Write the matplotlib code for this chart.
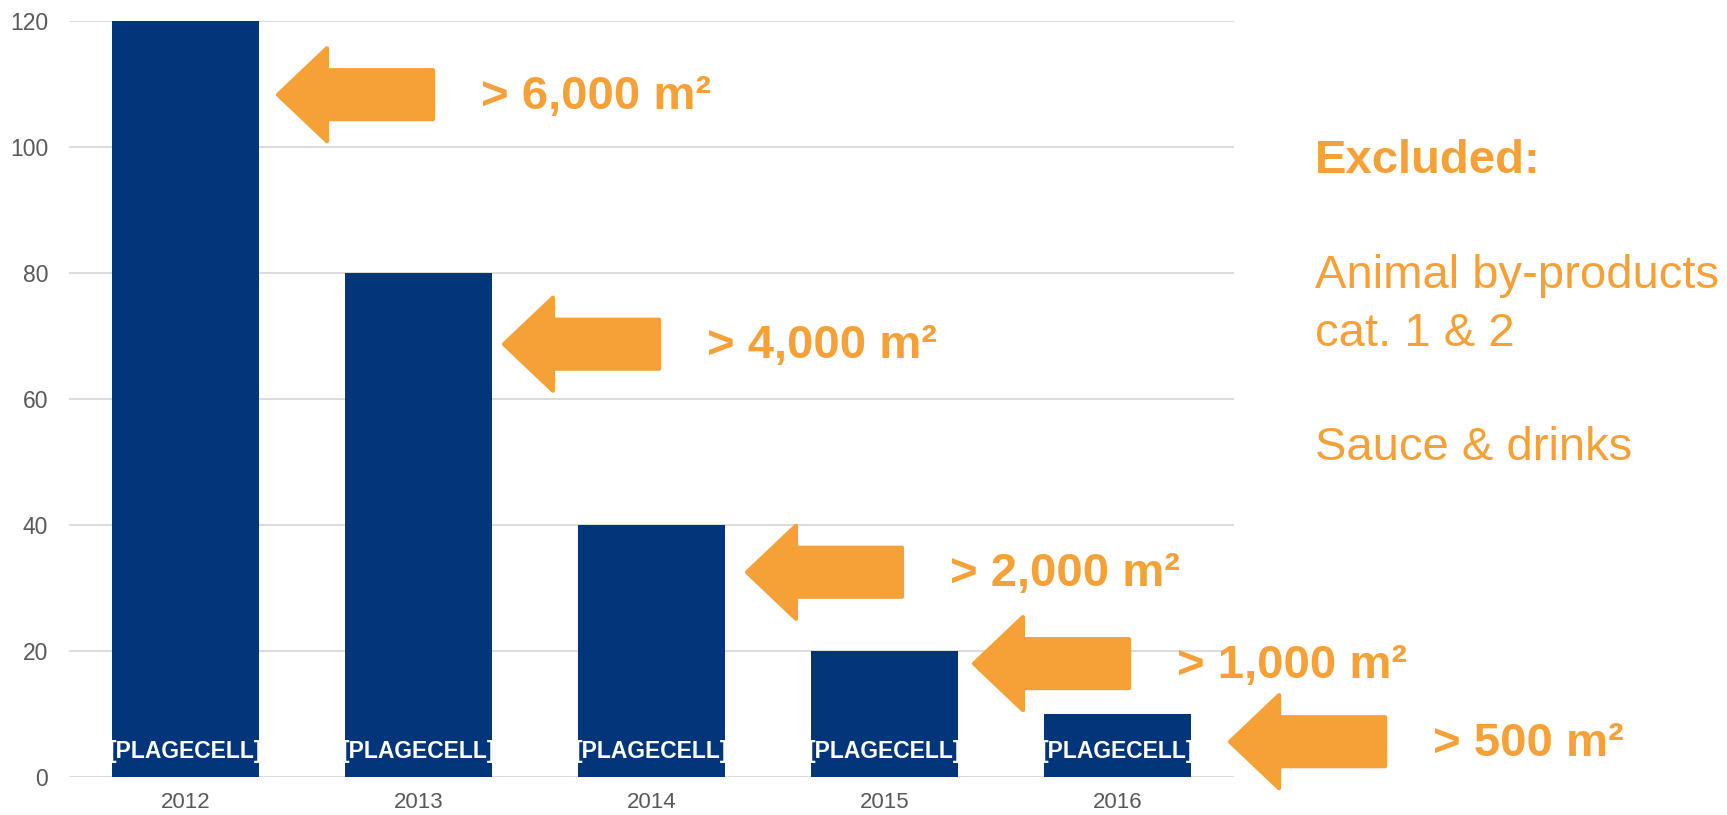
import matplotlib
matplotlib.use("Agg")
import matplotlib.pyplot as plt
from matplotlib.patches import Polygon
from matplotlib.transforms import ScaledTranslation

plt.rcParams['font.family'] = ['Liberation Sans', 'DejaVu Sans']

# Bars: one per year
years = ['2012', '2013', '2014', '2015', '2016']
values = [120, 80, 40, 20, 10]
bar_label = '[PLAGECELL]'

# Threshold arrows (tip position in data units) and their texts
arrow_x = [0.397, 1.367, 2.41, 3.384, 4.483]
arrow_y = [108.3, 68.7, 32.5, 18.0, 5.6]
thresholds = ['> 6,000 m²', '> 4,000 m²', '> 2,000 m²', '> 1,000 m²', '> 500 m²']

navy = '#02357a'
orange = '#f5a137'
grey = '#595959'

fig = plt.figure(figsize=(17.27, 8.15), dpi=100)
ax = fig.add_axes([69 / 1727, 38 / 815, 1165 / 1727, 756 / 815])

x = range(len(years))
bars = ax.bar(x, values, width=0.635, color=navy, zorder=2)

# white label near the foot of each bar, cut off at the bar edges
for b in bars:
    t = ax.text(b.get_x() + b.get_width() / 2, 4, bar_label, color='white',
                fontsize=16.5, fontweight='bold', ha='center', va='center', zorder=3)
    t.set_clip_path(b)

ax.set_xlim(-0.5, len(years) - 0.5)
ax.set_ylim(0, 120)
ax.set_yticks(range(0, 121, 20))
ax.set_xticks(list(x))
ax.set_xticklabels(years)
ax.tick_params(axis='y', length=0, pad=15, labelsize=16.5, labelcolor=grey)
ax.tick_params(axis='x', length=0, pad=11, labelsize=16, labelcolor=grey)
ax.grid(axis='y', color='#d9d9d9', linewidth=1.3, zorder=0)
ax.set_axisbelow(True)
for s in ax.spines.values():
    s.set_visible(False)

# Left-pointing block arrow, vertices in inches relative to its tip
head_len, head_half, shaft_half, total_len = 0.49, 0.465, 0.245, 1.55
arrow_shape = [
    (0, 0), (head_len, head_half), (head_len, shaft_half),
    (total_len, shaft_half), (total_len, -shaft_half),
    (head_len, -shaft_half), (head_len, -head_half),
]

for ax_x, ay, label in zip(arrow_x, arrow_y, thresholds):
    tr = fig.dpi_scale_trans + ScaledTranslation(ax_x, ay, ax.transData)
    poly = Polygon(arrow_shape, closed=True, transform=tr, facecolor=orange,
                   edgecolor=orange, linewidth=3, joinstyle='round', clip_on=False, zorder=4)
    ax.add_patch(poly)
    ax.text(2.03, -0.02, label, transform=tr, color=orange, fontsize=34,
            fontweight='bold', ha='left', va='center', clip_on=False, zorder=4)

# Note on the right
note_x = 1315 / 1727
fig.text(note_x, 0.7877, 'Excluded:', color=orange, fontsize=34, fontweight='bold', va='baseline')
fig.text(note_x, 0.6466, 'Animal by-products', color=orange, fontsize=34, va='baseline')
fig.text(note_x, 0.5755, 'cat. 1 & 2', color=orange, fontsize=34, va='baseline')
fig.text(note_x, 0.4356, 'Sauce & drinks', color=orange, fontsize=34, va='baseline')

fig.savefig('out.png', dpi=100)
